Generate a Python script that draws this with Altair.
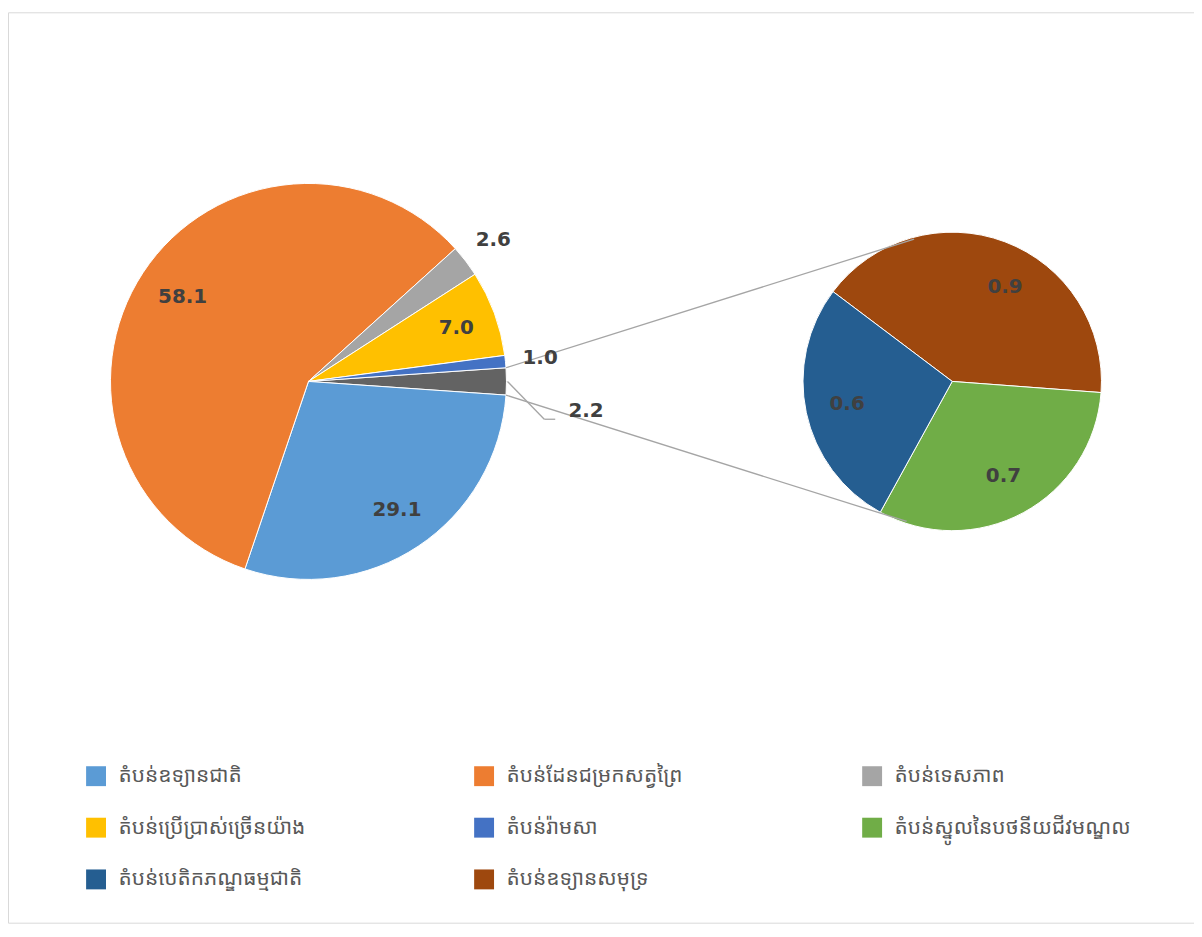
import math
import altair as alt
import pandas as pd

# ---- data ----
main_cats = ["ផ្សេងៗ", "តំបន់ឧទ្យានជាតិ", "តំបន់ដែនជម្រកសត្វព្រៃ", "តំបន់ទេសភាព",
             "តំបន់ប្រើប្រាស់ច្រើនយ៉ាង", "តំបន់រ៉ាមសា"]
main_vals = [2.2, 29.1, 58.1, 2.6, 7.0, 1.0]

sub_cats = ["តំបន់ឧទ្យានសមុទ្រ", "តំបន់ស្នូលនៃបថនីយជីវមណ្ឌល", "តំបន់បេតិកភណ្ឌធម្មជាតិ"]
sub_vals = [0.9, 0.7, 0.6]

legend_cats = ["តំបន់ឧទ្យានជាតិ", "តំបន់ដែនជម្រកសត្វព្រៃ", "តំបន់ទេសភាព",
               "តំបន់ប្រើប្រាស់ច្រើនយ៉ាង", "តំបន់រ៉ាមសា", "តំបន់ស្នូលនៃបថនីយជីវមណ្ឌល",
               "តំបន់បេតិកភណ្ឌធម្មជាតិ", "តំបន់ឧទ្យានសមុទ្រ"]
legend_colors = ["#5B9BD5", "#ED7D31", "#A5A5A5", "#FFC000", "#4472C4", "#70AD47",
                 "#255E91", "#9E480E"]
other_color = "#636363"

inside_idx = [1, 2, 4]
outside_idx = [3, 5]
other_idx = [0]

# ---- geometry ----
W, H = 1192, 915
c1x, c1y, r1 = 302, 371, 199
c2x, c2y, r2 = 949, 371, 150

total_main = sum(main_vals)
other_deg = main_vals[0] / total_main * 360
start1 = math.radians(90 - other_deg / 2)
start2 = math.radians(307)

main_df = pd.DataFrame({"cat": main_cats, "v": main_vals, "ord": list(range(len(main_cats)))})
sub_df = pd.DataFrame({"cat": sub_cats, "v": sub_vals, "ord": list(range(len(sub_cats)))})

color_enc = alt.Color(
    "cat:N",
    scale=alt.Scale(domain=legend_cats + [main_cats[0]], range=legend_colors + [other_color]),
    legend=alt.Legend(
        values=legend_cats, orient="none", legendX=78, legendY=757, columns=3,
        direction="horizontal",
        title=None, symbolType="square", symbolSize=400, symbolStrokeWidth=0,
        labelFontSize=21, labelColor="#595959",
        labelFont="Noto Sans Khmer, Khmer OS, Noto Sans, DejaVu Sans",
        labelLimit=600, columnPadding=119, rowPadding=30, gridAlign="all",
        labelOffset=12, padding=0, symbolOpacity=1,
    ),
)

theta1 = alt.Theta("v:Q", stack=True, scale=alt.Scale(range=[start1, start1 + 2 * math.pi]))
theta2 = alt.Theta("v:Q", stack=True, scale=alt.Scale(range=[start2, start2 + 2 * math.pi]))

txt_style = dict(fontSize=20, fontWeight="bold", font="DejaVu Sans", color="#404040",
                 align="center", baseline="middle")

base1 = alt.Chart(main_df)
arc1 = base1.mark_arc(outerRadius=r1, stroke="white", strokeWidth=1).encode(
    theta=theta1, color=color_enc, order=alt.Order("ord:Q"),
    x=alt.value(c1x), y=alt.value(c1y))


def lab_layer(base, theta, idx, radius, cx, cy, dx=0, dy=0):
    return base.transform_calculate(
        lab=f"indexof({idx}, datum.ord) >= 0 ? format(datum.v, '.1f') : ''"
    ).mark_text(radius=radius, dx=dx, dy=dy, **txt_style).encode(
        theta=theta, order=alt.Order("ord:Q"), text="lab:N",
        x=alt.value(cx), y=alt.value(cy))


t_in = lab_layer(base1, theta1, inside_idx, 155, c1x, c1y, dx=3)
t_out = lab_layer(base1, theta1, outside_idx, 234, c1x, c1y)
t_oth = lab_layer(base1, theta1, other_idx, 277, c1x, c1y, dx=2, dy=30)

base2 = alt.Chart(sub_df)
arc2 = base2.mark_arc(outerRadius=r2, stroke="white", strokeWidth=1).encode(
    theta=theta2, color=color_enc, order=alt.Order("ord:Q"),
    x=alt.value(c2x), y=alt.value(c2y))
t_sub = lab_layer(base2, theta2, [1, 2], 108, c2x, c2y)
t_sub0 = lab_layer(base2, theta2, [0], 108, c2x, c2y, dx=15, dy=6)


def pt(cx, cy, r, deg):
    a = math.radians(deg)
    return cx + r * math.sin(a), cy - r * math.cos(a)


# connector lines between the two pies
p_top1 = pt(c1x, c1y, r1, 90 - other_deg / 2)
p_bot1 = pt(c1x, c1y, r1, 90 + other_deg / 2)
p_top2 = pt(c2x, c2y, r2 - 2, -15)
p_bot2 = pt(c2x, c2y, r2 - 2, 198)
# leader line for "other" label
p_l0 = pt(c1x, c1y, r1 + 1, 90)
p_l1 = (p_l0[0] + 37, p_l0[1] + 38)
p_l2 = (p_l1[0] + 11, p_l1[1])

seg = alt.Data(values=[{"k": 1}])


def rule(a, b):
    return alt.Chart(seg).mark_rule(color="#A5A5A5", strokeWidth=1.3).encode(
        x=alt.value(a[0]), y=alt.value(a[1]), x2=alt.value(b[0]), y2=alt.value(b[1]))


rules = [rule(p_top1, p_top2), rule(p_bot1, p_bot2), rule(p_l0, p_l1), rule(p_l1, p_l2)]

chart = alt.layer(arc1, arc2, *rules, t_in, t_out, t_oth, t_sub, t_sub0).resolve_scale(
    theta="independent"
).properties(
    width=W, height=H, autosize="none",
    padding={"left": 0, "top": 2, "right": 0, "bottom": 0},
).configure_view(stroke="#D9D9D9", strokeWidth=1)

chart.save("out.html", embed_options={"renderer": "svg", "actions": False})
